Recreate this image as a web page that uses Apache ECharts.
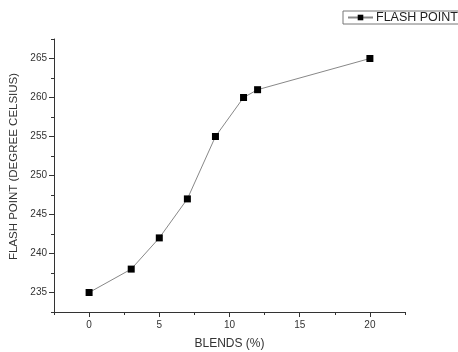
<!DOCTYPE html>
<html>
<head>
<meta charset="utf-8">
<script src="https://cdn.jsdelivr.net/npm/echarts@6/dist/echarts.min.js"></script>
<style>html,body{margin:0;padding:0;background:#fff}#c{width:458px;height:352px}</style>
</head>
<body>
<div id="c"></div>
<script>
const blends = [0, 3, 5, 7, 9, 11, 12, 20];
const flashPoint = [235, 238, 242, 247, 255, 260, 261, 265];
const xTicks = [0, 5, 10, 15, 20];
const yTicks = [235, 240, 245, 250, 255, 260, 265];
const seriesName = 'FLASH POINT';
const xTitle = 'BLENDS (%)';
const yTitle = 'FLASH POINT (DEGREE CELSIUS)';

const chart = echarts.init(document.getElementById('c'), null, {renderer: 'canvas'});
const font = 'Liberation Sans, Arial, sans-serif';
chart.setOption({
  animation: false,
  backgroundColor: '#fff',
  grid: {left: 54, top: 39, right: 53, bottom: 40, containLabel: false, outerBoundsMode: 'none'},
  legend: {
    left: 343, top: 11,
    padding: [0, 4, 0, 4],
    borderColor: '#777', borderWidth: 1,
    itemWidth: 25, itemHeight: 7, itemGap: 5,
    textStyle: {fontFamily: font, fontSize: 12.5, color: '#222', padding: [1,0,0,-2]},
    data: [seriesName]
  },
  xAxis: {
    type: 'value', min: -2.5, max: 22.5, interval: 5,
    name: xTitle, nameLocation: 'middle', nameGap: 26,
    nameTextStyle: {fontFamily: font, fontSize: 12, color: '#333'},
    axisLine: {show: true, onZero: false, lineStyle: {color: '#333', width: 1}},
    axisTick: {show: true, inside: false, length: 3, lineStyle: {color: '#333'}},
    minorTick: {show: true, splitNumber: 2, length: 5, lineStyle: {color: '#333', width: 1}},
    splitLine: {show: false},
    minorSplitLine: {show: false},
    axisLabel: {fontFamily: font, fontSize: 10, color: '#333', margin: 8,
      customValues: xTicks}
  },
  yAxis: {
    type: 'value', min: 232.5, max: 267.5, interval: 5,
    name: yTitle, nameLocation: 'middle', nameGap: 33,
    nameTextStyle: {fontFamily: font, fontSize: 11.5, color: '#333', padding: [0, 0, 0, 18]},
    axisLine: {show: true, onZero: false, lineStyle: {color: '#333', width: 1}},
    axisTick: {show: true, inside: false, length: 3, lineStyle: {color: '#333'}},
    minorTick: {show: true, splitNumber: 2, length: 5, lineStyle: {color: '#333', width: 1}},
    splitLine: {show: false},
    minorSplitLine: {show: false},
    axisLabel: {fontFamily: font, fontSize: 10, color: '#333', margin: 7,
      customValues: yTicks}
  },
  series: [{
    name: seriesName,
    type: 'line',
    data: blends.map((b, i) => [b, flashPoint[i]]),
    symbol: 'rect', symbolSize: 7,
    itemStyle: {color: '#000'},
    lineStyle: {color: '#888', width: 1}
  }]
});
</script>
</body>
</html>
